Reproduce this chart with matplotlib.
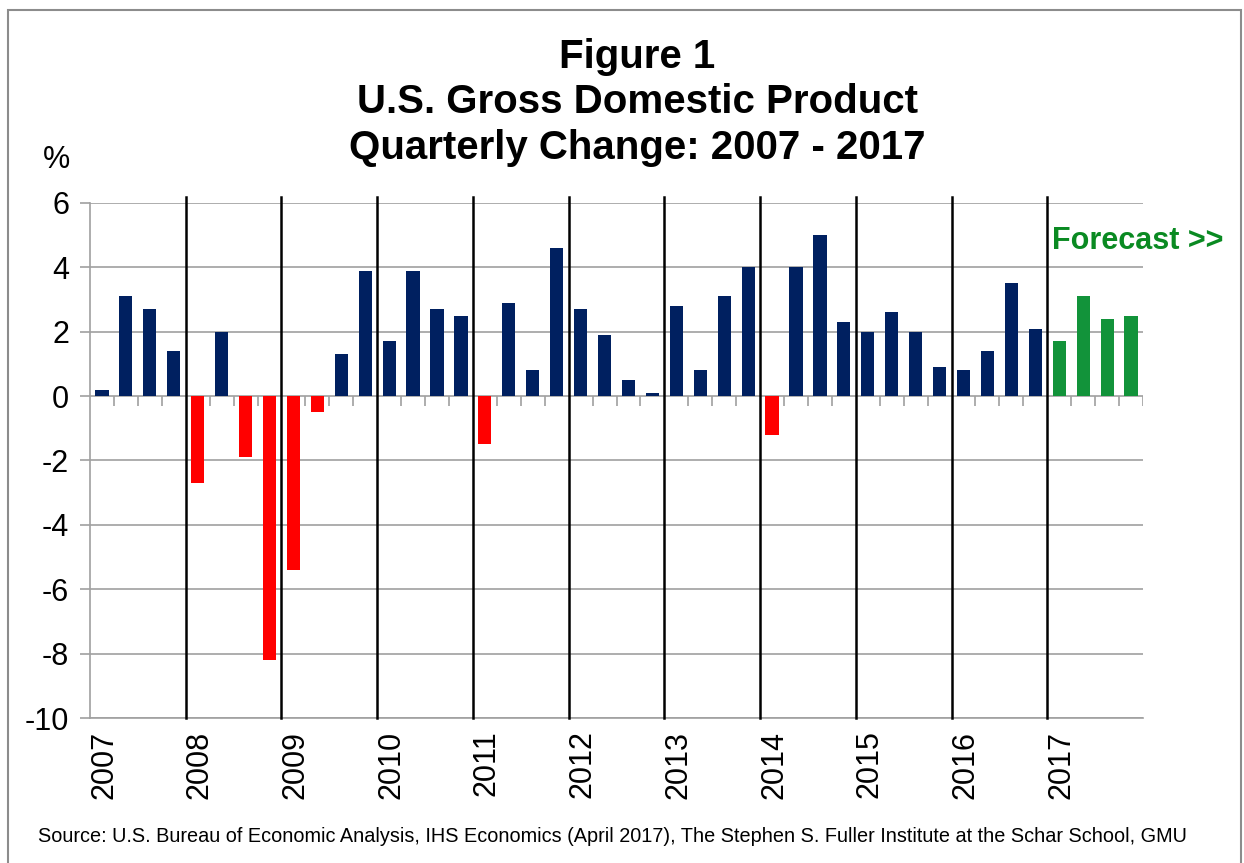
# U.S. GDP quarterly change, 2007 - 2017 (2017 = forecast)
import numpy as np
import matplotlib
matplotlib.use('Agg')
import matplotlib.pyplot as plt
import matplotlib.transforms as mtransforms
from matplotlib.patches import Rectangle

plt.rcParams['font.family'] = ['Liberation Sans', 'DejaVu Sans']
plt.rcParams['axes.unicode_minus'] = False

years = [str(y) for y in range(2007, 2018)]
# quarterly % change, 2007 Q1 .. 2016 Q4 (actual), 2017 Q1 .. Q4 (forecast)
gdp_actual = [0.2, 3.1, 2.7, 1.4,
              -2.7, 2.0, -1.9, -8.2,
              -5.4, -0.5, 1.3, 3.9,
              1.7, 3.9, 2.7, 2.5,
              -1.5, 2.9, 0.8, 4.6,
              2.7, 1.9, 0.5, 0.1,
              2.8, 0.8, 3.1, 4.0,
              -1.2, 4.0, 5.0, 2.3,
              2.0, 2.6, 2.0, 0.9,
              0.8, 1.4, 3.5, 2.1]
gdp_forecast = [1.7, 3.1, 2.4, 2.5]

navy = '#002060'
red = '#FF0000'
green = '#12933A'
grid_gray = '#A0A0A0'

values = np.array(gdp_actual + gdp_forecast)
colors = [red if v < 0 else navy for v in gdp_actual] + [green] * len(gdp_forecast)
xpos = np.arange(len(values)) + 0.5

fig = plt.figure(figsize=(12.44, 8.63), dpi=100)
ax = fig.add_axes([90/1244, 1 - 718/863, (1143-90)/1244, (718-203)/863])

ax.bar(xpos, values, width=0.55, color=colors, zorder=3)

ax.set_xlim(0, len(values))
ax.set_ylim(-10, 6)
ax.set_yticks(np.arange(-10, 7, 2))
ax.yaxis.grid(True, color=grid_gray, linewidth=1.2, zorder=1)
ax.tick_params(axis='y', length=7, width=1.2, color=grid_gray, labelsize=22, pad=8)

# year separators
for b in range(4, len(values), 4):
    ax.axvline(b, ymin=0, ymax=1.012, color='black', linewidth=1.8, zorder=4, clip_on=False)

# quarter tick marks hanging off the zero line
qt = [q for q in range(1, len(values) + 1) if q % 4 != 0 or q == len(values)]
ax.vlines(qt, -0.32, 0, color=grid_gray, linewidth=1.2, zorder=2)

ax.set_xticks(np.arange(0, len(values), 4))
ax.set_xticklabels(years, rotation=90, fontsize=22, va='top', ha='center')
ax.tick_params(axis='x', length=0, pad=9)
offset = mtransforms.ScaledTranslation(14/100, 0, fig.dpi_scale_trans)
for lbl in ax.get_xticklabels():
    lbl.set_transform(lbl.get_transform() + offset)

for s in ['top', 'right']:
    ax.spines[s].set_visible(False)
for s in ['left', 'bottom']:
    ax.spines[s].set_color(grid_gray)
    ax.spines[s].set_linewidth(1.2)

# titles and notes
fig.text(637/1244, 1 - 57/863, 'Figure 1', ha='center', va='center', fontsize=29, fontweight='bold')
fig.text(637/1244, 1 - 102/863, 'U.S. Gross Domestic Product', ha='center', va='center', fontsize=29, fontweight='bold')
fig.text(637/1244, 1 - 148/863, 'Quarterly Change: 2007 - 2017', ha='center', va='center', fontsize=29, fontweight='bold')
fig.text(57/1244, 1 - 160/863, '%', ha='center', va='center', fontsize=22)
fig.text(1052/1244, 1 - 241/863, 'Forecast >>', ha='left', va='center', fontsize=22,
         fontweight='bold', color='#0A8A22')
fig.text(38/1244, 1 - 836/863,
         'Source: U.S. Bureau of Economic Analysis, IHS Economics (April 2017), '
         'The Stephen S. Fuller Institute at the Schar School, GMU',
         ha='left', va='center', fontsize=14.3)

fig.patches.append(Rectangle((8/1244, -0.05), (1241-8)/1244, 1.05 - 10/863,
                             transform=fig.transFigure, fill=False,
                             edgecolor='#8C8C8C', linewidth=1.5))

fig.savefig('out.png', dpi=100)
